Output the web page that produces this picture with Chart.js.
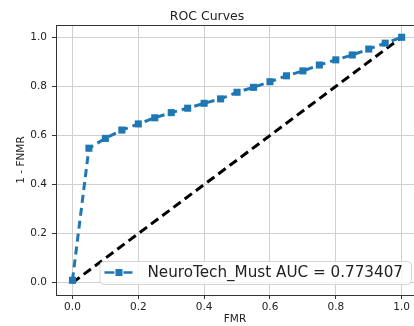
<!DOCTYPE html>
<html>
<head>
<meta charset="utf-8">
<script src="https://cdn.jsdelivr.net/npm/chart.js@4/dist/chart.umd.min.js"></script>
<style>
  html, body { margin: 0; padding: 0; background: #fff; overflow: hidden; }
  #wrap { width: 414px; height: 326px; }
</style>
</head>
<body>
<div id="wrap"><canvas id="roc"></canvas></div>
<script>
// ROC curve values
var fmr = [0, 0.05, 0.1, 0.15, 0.2, 0.25, 0.3, 0.35, 0.4, 0.45, 0.5,
           0.55, 0.6, 0.65, 0.7, 0.75, 0.8, 0.85, 0.9, 0.95, 1.0];
var tpr = [0.01, 0.548, 0.588, 0.622, 0.647, 0.672, 0.693, 0.711, 0.731, 0.749, 0.776,
           0.796, 0.819, 0.843, 0.863, 0.887, 0.908, 0.928, 0.952, 0.976, 1.0];
var diagX = [0, 1];
var diagY = [0, 1];
var xTicks = [0, 0.2, 0.4, 0.6, 0.8, 1.0];
var yTicks = [0, 0.2, 0.4, 0.6, 0.8, 1.0];
var curveLabel = 'NeuroTech_Must AUC = 0.773407';

var font = "'DejaVu Sans', sans-serif";

function pts(xs, ys) {
    return xs.map(function (x, i) { return { x: x, y: ys[i] }; });
}

// top spine + matplotlib style legend box in the lower right
var frameLegend = {
    id: 'frameLegend',
    afterDraw: function (chart) {
        var ctx = chart.ctx, a = chart.chartArea;
        ctx.save();
        ctx.strokeStyle = '#333';
        ctx.lineWidth = 1;
        ctx.beginPath();
        ctx.moveTo(a.left, a.top + 0.5);
        ctx.lineTo(a.right, a.top + 0.5);
        ctx.stroke();

        ctx.font = '15.2px ' + font;
        var tw = ctx.measureText(curveLabel).width;
        var w = 5 + 28 + 15 + tw + 8;
        var h = 23;
        var right = 411, bottom = a.bottom - 11;
        var left = right - w, top = bottom - h;
        ctx.beginPath();
        ctx.roundRect(left + 0.5, top + 0.5, w, h, 4);
        ctx.fillStyle = 'rgba(255,255,255,0.8)';
        ctx.fill();
        ctx.strokeStyle = '#d5d5d5';
        ctx.stroke();

        var cy = top + h / 2;
        var hx = left + 5;
        ctx.strokeStyle = '#1f77b4';
        ctx.lineWidth = 2.5;
        ctx.beginPath();
        ctx.moveTo(hx, cy); ctx.lineTo(hx + 10, cy);
        ctx.moveTo(hx + 19, cy); ctx.lineTo(hx + 28, cy);
        ctx.stroke();
        ctx.fillStyle = '#1f77b4';
        ctx.fillRect(hx + 11, cy - 3.5, 7, 7);

        ctx.fillStyle = '#222';
        ctx.textBaseline = 'middle';
        ctx.textAlign = 'left';
        ctx.fillText(curveLabel, hx + 28 + 15, cy + 1);
        ctx.restore();
    }
};

new Chart(document.getElementById('roc'), {
    type: 'line',
    data: {
        datasets: [{
            label: curveLabel,
            data: pts(fmr, tpr),
            borderColor: '#1f77b4',
            backgroundColor: '#1f77b4',
            borderWidth: 3,
            borderDash: [8, 5],
            pointStyle: 'rect',
            pointRadius: 5,
            pointBorderWidth: 0,
            tension: 0,
            fill: false
        }, {
            label: 'chance',
            data: pts(diagX, diagY),
            borderColor: '#000',
            borderWidth: 3,
            borderDash: [9, 5],
            pointRadius: 0,
            tension: 0,
            fill: false
        }]
    },
    options: {
        responsive: true,
        maintainAspectRatio: false,
        animation: false,
        layout: { padding: 0, autoPadding: false },
        plugins: {
            legend: { display: false },
            tooltip: { enabled: false },
            title: {
                display: true,
                text: 'ROC Curves',
                color: '#222',
                font: { family: font, size: 12.5, weight: 'normal' },
                padding: { top: 9, bottom: 1 }
            }
        },
        scales: {
            x: {
                type: 'linear',
                min: -0.05,
                max: 1.0375,
                afterBuildTicks: function (s) { s.ticks = xTicks.map(function (v) { return { value: v }; }); },
                afterFit: function (s) { s.height = 31; s.paddingLeft = 0; s.paddingRight = 0; },
                ticks: {
                    color: '#222',
                    font: { family: font, size: 10.5 },
                    padding: 2,
                    maxRotation: 0,
                    callback: function (v) { return v.toFixed(1); }
                },
                grid: { color: '#d0d0d0', lineWidth: 1, tickLength: 4, tickColor: '#333' },
                border: { color: '#333', width: 1 },
                title: {
                    display: true,
                    text: 'FMR',
                    color: '#222',
                    font: { family: font, size: 10.5 },
                    padding: 0
                }
            },
            y: {
                type: 'linear',
                min: -0.05,
                max: 1.05,
                afterBuildTicks: function (s) { s.ticks = yTicks.map(function (v) { return { value: v }; }); },
                afterFit: function (s) { s.width = 56; },
                ticks: {
                    color: '#222',
                    font: { family: font, size: 10.5 },
                    padding: 5,
                    callback: function (v) { return v.toFixed(1); }
                },
                grid: { color: '#d0d0d0', lineWidth: 1, tickLength: 4, tickColor: '#333' },
                border: { color: '#333', width: 1 },
                title: {
                    display: true,
                    text: '1 - FNMR',
                    color: '#222',
                    font: { family: font, size: 10.5 },
                    padding: { top: 15, bottom: 0 }
                }
            }
        }
    },
    plugins: [frameLegend]
});
</script>
</body>
</html>
